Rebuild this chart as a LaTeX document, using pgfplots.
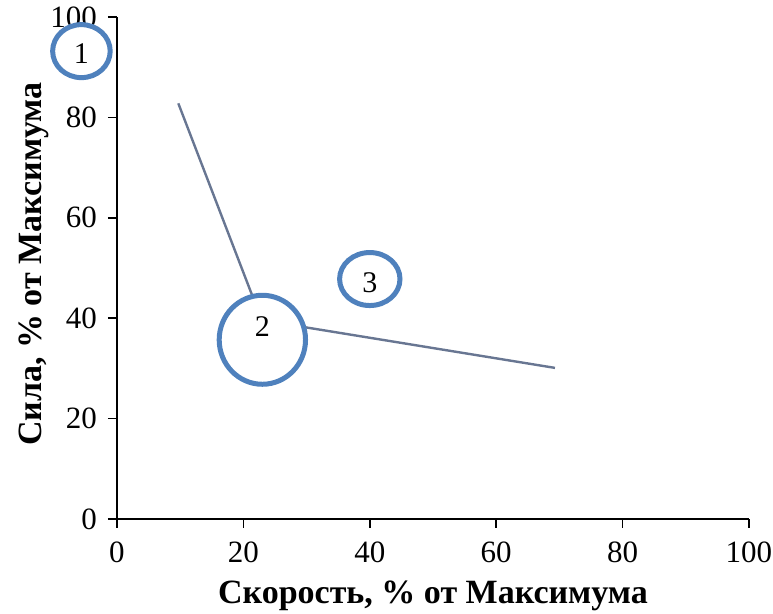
\documentclass[border=0pt]{standalone}
\usepackage{pgfplots}
\pgfplotsset{compat=1.18}
\usepackage{fontspec}
\setmainfont{Liberation Serif}
\definecolor{bubble}{RGB}{79,129,189}
\definecolor{lineblue}{RGB}{104,118,146}
\begin{document}
\begin{tikzpicture}[x=1pt,y=1pt]
\begin{axis}[
  at={(0,0)}, anchor=origin,
  scale only axis, width=316pt, height=251pt,
  xmin=0, xmax=100, ymin=0, ymax=100,
  axis lines*=left,
  axis line style={line width=0.9pt, black},
  xtick={0,20,...,100}, ytick={0,20,...,100},
  tick align=outside, major tick length=4.5pt,
  tick style={black, line width=0.8pt},
  ticklabel style={font=\fontsize{15.5}{18}\selectfont},
  xticklabel style={yshift=-3.5pt},
  yticklabel style={xshift=-2pt},
  /pgf/number format/assume math mode=true,
  clip=false,
  xlabel={Скорость, \% от Максимума},
  ylabel={Сила, \% от Максимума},
  label style={font=\fontsize{17}{20}\selectfont\bfseries},
  xlabel style={at={([yshift=-42.5pt]axis description cs:0.5,0)}, anchor=base},
  ylabel style={at={([xshift=-37.5pt]axis description cs:0,0.508)}, anchor=base},
]
\addplot[lineblue, line width=1.2pt, no marks] coordinates {(9.7,82.8) (22.9,39.6) (69.3,30.1)};
\addplot[only marks, mark=*, mark size=13.25pt,
  mark options={draw=bubble, fill=white, line width=2.5pt, xscale=1.086},
  point meta=explicit symbolic, nodes near coords,
  every node near coord/.style={anchor=center, font=\fontsize{15}{18}\selectfont, yshift=-1pt}]
  table[meta=lab] {x y lab
  -5.63 93.2 1
  };
\addplot[only marks, mark=*, mark size=22.25pt,
  mark options={draw=bubble, fill=white, line width=2.5pt, xscale=0.97},
  point meta=explicit symbolic, nodes near coords,
  every node near coord/.style={anchor=center, font=\fontsize{15}{18}\selectfont, yshift=6.5pt}]
  table[meta=lab] {x y lab
  23.0 35.7 2
  };
\addplot[only marks, mark=*, mark size=13.25pt,
  mark options={draw=bubble, fill=white, line width=2.5pt, xscale=1.14},
  point meta=explicit symbolic, nodes near coords,
  every node near coord/.style={anchor=center, font=\fontsize{15}{18}\selectfont, yshift=-2pt}]
  table[meta=lab] {x y lab
  40.0 47.8 3
  };
\end{axis}
\pgfresetboundingbox
\path[use as bounding box] (-58.5pt,-47.5pt) rectangle (328pt,259.5pt);
\end{tikzpicture}
\end{document}
